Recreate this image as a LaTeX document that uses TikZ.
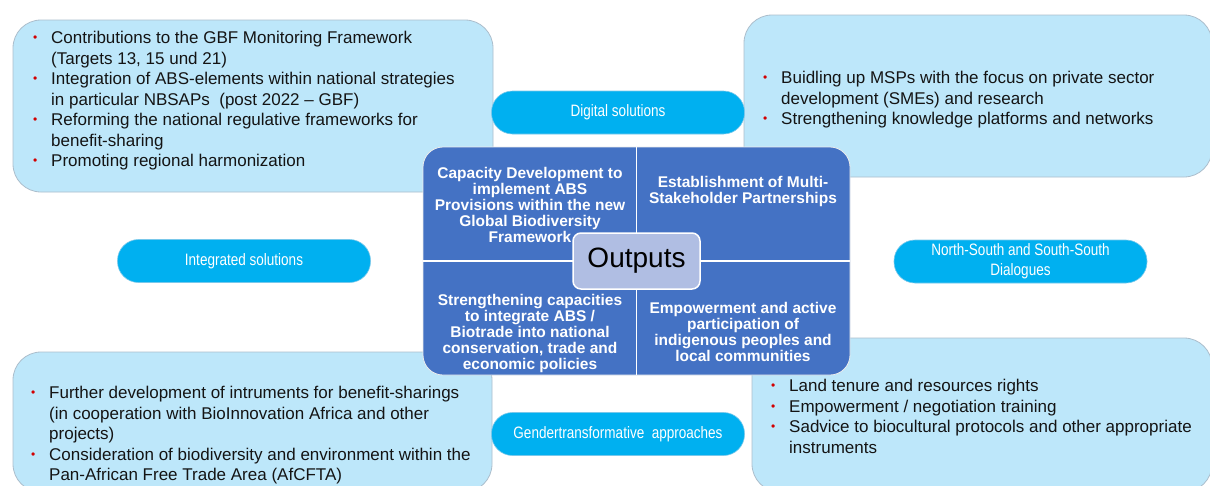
\documentclass[tikz,border=0pt]{standalone}
\usepackage{xcolor}
\usepackage{fontspec}
\setmainfont{Liberation Sans}
\newfontfamily\narrowsans[FakeStretch=0.82]{Liberation Sans}
\usepackage{tikz}

\definecolor{boxfill}{RGB}{189,231,250}
\definecolor{boxline}{RGB}{172,190,204}
\definecolor{pillfill}{RGB}{0,176,240}
\definecolor{pillline}{RGB}{120,200,235}
\definecolor{cellblue}{RGB}{68,114,196}
\definecolor{hubfill}{RGB}{176,190,227}
\definecolor{textdark}{RGB}{20,20,20}
\definecolor{bulletred}{RGB}{210,0,0}

\newcommand{\redbul}{\makebox[18pt][l]{\raisebox{2pt}{\textcolor{bulletred}{\fontsize{12}{12}\selectfont\textbullet}}}}
\newcommand{\contline}{\hspace*{18pt}}

\begin{document}
\begin{tikzpicture}[x=1pt, y=-1pt,
    infobox/.style={rectangle, rounded corners=28pt, draw=boxline, line width=0.8pt, fill=boxfill},
    pill/.style={rectangle, rounded corners=21pt, draw=pillline, line width=0.6pt, fill=pillfill, minimum width=253pt, minimum height=43pt, inner sep=2pt, text=white, align=center, font=\narrowsans\fontsize{16.5}{20}\selectfont},
    bullets/.style={anchor=north west, inner sep=0pt, align=left, text=textdark, font=\fontsize{17}{20.5}\selectfont},
    cell/.style={align=center, inner sep=0pt, text=white, font=\bfseries\fontsize{15.5}{16}\selectfont},
    hub/.style={rectangle, rounded corners=8pt, draw=white, line width=1.5pt, fill=hubfill, minimum width=127pt, minimum height=56pt, font=\fontsize{28}{30}\selectfont}
]

\useasboundingbox[fill=white] (0,0) rectangle (1210,485);
\clip (0,0) rectangle (1210,485);

% light blue boxes
\node[infobox, minimum width=480pt, minimum height=172pt] (tlbox) at (253,106) {};
\node[infobox, minimum width=468pt, minimum height=162pt] (trbox) at (978,96) {};
\node[infobox, minimum width=479pt, minimum height=140pt] (blbox) at (252.5,422) {};
\node[infobox, minimum width=460pt, minimum height=154pt] (brbox) at (982,415) {};

% bullet texts
\node[bullets] (frameworks) at (33,31) {\redbul Contributions to the GBF Monitoring Framework\\
    \contline (Targets 13, 15 und 21)\\
    \redbul Integration of ABS-elements within national strategies\\
    \contline in particular NBSAPs\ \ (post 2022 -- GBF)\\
    \redbul Reforming the national regulative frameworks for\\
    \contline benefit-sharing\\
    \redbul Promoting regional harmonization};
\node[bullets] (msps) at (763,71) {\redbul Buidling up MSPs with the focus on private sector\\
    \contline development (SMEs) and research\\
    \redbul Strengthening knowledge platforms and networks};
\node[bullets] (instruments) at (31,386) {\redbul Further development of intruments for benefit-sharings\\
    \contline (in cooperation with BioInnovation Africa and other\\
    \contline projects)\\
    \redbul Consideration of biodiversity and environment within the\\
    \contline Pan-African Free Trade Area (AfCFTA)};
\node[bullets] (rights) at (771,379) {\redbul Land tenure and resources rights\\
    \redbul Empowerment / negotiation training\\
    \redbul Sadvice to biocultural protocols and other appropriate\\
    \contline instruments};

% output matrix
\node[rectangle, rounded corners=20pt, fill=cellblue, draw=white!85!gray, line width=0.8pt,
    minimum width=427pt, minimum height=228pt] (quad) at (636.5,261) {};
\draw[white, line width=1.5pt] (quad.north) -- (quad.south);
\draw[white, line width=1.5pt] (quad.west) -- (quad.east);

\node[cell] (capdev) at (530,204.5) {Capacity Development to\\implement ABS\\Provisions within the new\\Global Biodiversity\\Framework};
\node[cell] (partners) at (743,191.5) {Establishment of Multi-\\Stakeholder Partnerships};
\node[cell] (biotrade) at (530,333.5) {Strengthening capacities\\to integrate ABS /\\Biotrade into national\\conservation, trade and\\economic policies};
\node[cell] (iplc) at (743,331.5) {Empowerment and active\\participation of\\indigenous peoples and\\local communities};

\node[hub] (outputs) at (636.5,261) {Outputs};

% approaches
\node[pill] (digital) at (618,112.5) {Digital solutions};
\node[pill] (integrated) at (244,261) {Integrated solutions};
\node[pill] (dialogues) at (1020.5,261.5) {North-South and South-South\\Dialogues};
\node[pill] (gender) at (618,434) {Gendertransformative\ \ approaches};

\end{tikzpicture}
\end{document}
